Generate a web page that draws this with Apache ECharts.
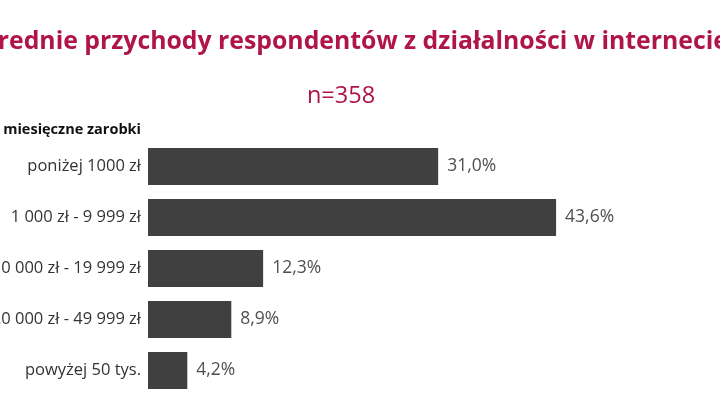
<!DOCTYPE html>
<html>
<head>
<meta charset="utf-8">
<script src="https://cdn.jsdelivr.net/npm/echarts@6/dist/echarts.min.js"></script>
<style>
html,body{margin:0;padding:0;background:#fff;}
#chart{width:720px;height:400px;}
</style>
</head>
<body>
<div id="chart"></div>
<script>
const titleText = 'Średnie przychody respondentów z działalności w internecie';
const sampleText = 'n=358';
const axisTitle = 'Średnie miesięczne zarobki';
const categories = ['poniżej 1000 zł', '1 000 zł - 9 999 zł', '10 000 zł - 19 999 zł', '20 000 zł - 49 999 zł', 'powyżej 50 tys.'];
const values = [31.0, 43.6, 12.3, 8.9, 4.2];

const FONT = '"Open Sans", sans-serif';
const RED = '#b0154a';

const chart = echarts.init(document.getElementById('chart'));
chart.setOption({
  animation: false,
  backgroundColor: '#ffffff',
  graphic: [
    { type: 'text', x: 356, y: 42, style: { text: titleText, fill: RED, font: 'bold 24.8px ' + FONT, textAlign: 'center', textVerticalAlign: 'middle' } },
    { type: 'text', x: 341, y: 96, style: { text: sampleText, fill: RED, font: '23.5px ' + FONT, textAlign: 'center', textVerticalAlign: 'middle' } },
    { type: 'text', x: 141, y: 130, style: { text: axisTitle, fill: '#111', font: 'bold 14.5px ' + FONT, textAlign: 'right', textVerticalAlign: 'middle' } }
  ],
  grid: { left: 148, top: 141, height: 255, right: 10.4, containLabel: false, outerBoundsMode: 'none' },
  xAxis: { type: 'value', min: 0, max: 60, show: false },
  yAxis: {
    type: 'category', data: categories, inverse: true,
    axisLine: { show: false }, axisTick: { show: false },
    axisLabel: { color: '#333', fontSize: 16.5, fontFamily: FONT, margin: 7 }
  },
  series: [{
    type: 'bar', data: values, barCategoryGap: '27.5%',
    itemStyle: { color: '#404040' },
    label: {
      show: true, position: 'right', distance: 9, color: '#505050', fontSize: 17.5, fontFamily: FONT,
      formatter: p => p.value.toFixed(1).replace('.', ',') + '%'
    }
  }]
});
</script>
</body>
</html>
